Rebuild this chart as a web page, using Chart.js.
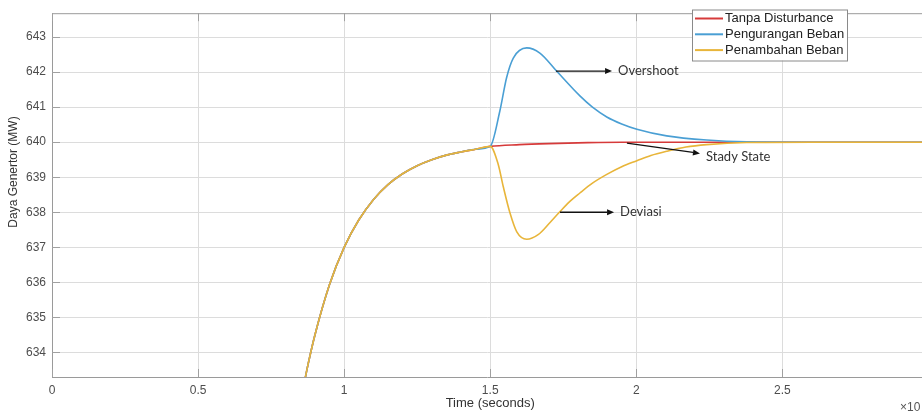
<!DOCTYPE html>
<html>
<head>
<meta charset="utf-8">
<script src="https://cdn.jsdelivr.net/npm/chart.js@4"></script>
<style>
  html, body { margin: 0; padding: 0; background: #fff; }
  canvas { display: block; }
</style>
</head>
<body>
<canvas id="chart" width="922" height="414"></canvas>
<script>
// Response shared by all three cases before the disturbance at t = 1.5
const riseTime  = [0.86, 0.877, 0.9, 0.95, 1.0, 1.05, 1.1, 1.15, 1.2, 1.25, 1.3, 1.35, 1.4, 1.45, 1.5];
const riseValue = [632.99, 633.68, 634.5, 635.94, 637.0, 637.78, 638.36, 638.79, 639.1, 639.33, 639.5, 639.63, 639.72, 639.8, 639.88];

// Tanpa Disturbance (after 1.5)
const redTime  = [1.6, 1.7, 1.8, 1.95, 2.2, 2.6, 2.98];
const redValue = [639.93, 639.96, 639.98, 640.0, 640.0, 640.0, 640.0];

// Pengurangan Beban (after 1.5)
const blueTime  = [1.533, 1.556, 1.579, 1.625, 1.67, 1.727, 1.807, 1.85, 1.899, 1.95, 2.002, 2.104, 2.241, 2.378, 2.6, 2.98];
const blueValue = [640.89, 641.84, 642.4, 642.69, 642.54, 642.03, 641.32, 641.0, 640.72, 640.52, 640.37, 640.18, 640.06, 640.01, 640.0, 640.0];

// Penambahan Beban (after 1.5)
const yellowTime  = [1.527, 1.545, 1.568, 1.591, 1.625, 1.664, 1.704, 1.739, 1.77, 1.807, 1.85, 1.899, 1.95, 2.002, 2.05, 2.104, 2.17, 2.241, 2.378, 2.6, 2.98];
const yellowValue = [639.38, 638.72, 637.97, 637.44, 637.23, 637.36, 637.7, 638.02, 638.29, 638.55, 638.83, 639.08, 639.3, 639.47, 639.62, 639.74, 639.86, 639.93, 639.99, 640.0, 640.0];

const seriesLabels = ['Tanpa Disturbance', 'Pengurangan Beban', 'Penambahan Beban'];
const seriesColors = ['#d63a3a', '#4a9fd4', '#e8b53a'];

// Annotations: [label, arrow start x, y, arrow end x, y]
const notes = [
  ['Overshoot',   1.725, 642.03, 1.917, 642.03],
  ['Stady State', 1.968, 639.97, 2.218, 639.68],
  ['Deviasi',     1.739, 638.0,  1.924, 638.0],
];

function points(times, values) {
  return times.map((t, i) => ({ x: t, y: values[i] }));
}

const withRise = (t, v) => points(riseTime, riseValue).concat(points(t, v));

// ─── Decorations: box, inner ticks, legend, notes, axis titles ───────────────

function arrow(ctx, x1, y1, x2, y2) {
  const a = Math.atan2(y2 - y1, x2 - x1);
  const L = 7, W = 3;
  ctx.beginPath();
  ctx.moveTo(x1, y1);
  ctx.lineTo(x2 - L * Math.cos(a), y2 - L * Math.sin(a));
  ctx.stroke();
  ctx.beginPath();
  ctx.moveTo(x2, y2);
  ctx.lineTo(x2 - L * Math.cos(a) - W * Math.sin(a), y2 - L * Math.sin(a) + W * Math.cos(a));
  ctx.lineTo(x2 - L * Math.cos(a) + W * Math.sin(a), y2 - L * Math.sin(a) - W * Math.cos(a));
  ctx.closePath();
  ctx.fill();
}

const decor = {
  id: 'decor',
  afterDraw(chart) {
    const { ctx, chartArea: ca, scales: { x, y } } = chart;
    ctx.save();

    // top border
    ctx.strokeStyle = '#9a9a9a';
    ctx.lineWidth = 1;
    ctx.beginPath();
    ctx.moveTo(ca.left, ca.top + 0.5);
    ctx.lineTo(ca.right, ca.top + 0.5);
    ctx.stroke();

    // inward tick marks
    ctx.strokeStyle = '#a0a0a0';
    ctx.beginPath();
    y.ticks.forEach(t => {
      const py = Math.round(y.getPixelForValue(t.value)) + 0.5;
      ctx.moveTo(ca.left, py);
      ctx.lineTo(ca.left + 8, py);
    });
    x.ticks.forEach(t => {
      const px = Math.round(x.getPixelForValue(t.value)) + 0.5;
      ctx.moveTo(px, ca.bottom);
      ctx.lineTo(px, ca.bottom - 8);
      ctx.moveTo(px, ca.top);
      ctx.lineTo(px, ca.top + 8);
    });
    ctx.stroke();

    // annotations
    ctx.strokeStyle = '#111';
    ctx.fillStyle = '#111';
    ctx.lineWidth = 1.3;
    ctx.font = '13px Lato, "Open Sans", sans-serif';
    ctx.textBaseline = 'middle';
    ctx.textAlign = 'left';
    notes.forEach(([text, x1, y1, x2, y2]) => {
      const ax = x.getPixelForValue(x1), ay = y.getPixelForValue(y1);
      const bx = x.getPixelForValue(x2), by = y.getPixelForValue(y2);
      arrow(ctx, ax, ay, bx, by);
      ctx.fillStyle = '#333';
      ctx.fillText(text, bx + 6, by + (by > ay ? 3 : 0));
      ctx.fillStyle = '#111';
    });

    // legend box
    const lx = 692, ly = 9.5, lw = 155, lh = 51;
    ctx.fillStyle = '#fff';
    ctx.fillRect(lx, ly, lw, lh);
    ctx.strokeStyle = '#8a8a8a';
    ctx.lineWidth = 1;
    ctx.strokeRect(lx + 0.5, ly + 0.5, lw, lh);
    ctx.font = '13px "Liberation Sans", Arial, sans-serif';
    seriesLabels.forEach((label, i) => {
      const ry = 18.5 + i * 15.8;
      ctx.strokeStyle = seriesColors[i];
      ctx.lineWidth = 2;
      ctx.beginPath();
      ctx.moveTo(lx + 3, ry);
      ctx.lineTo(lx + 31, ry);
      ctx.stroke();
      ctx.fillStyle = '#222';
      ctx.fillText(label, lx + 33, ry);
    });

    // axis titles
    ctx.fillStyle = '#333';
    ctx.font = '13px "Liberation Sans", Arial, sans-serif';
    ctx.textAlign = 'center';
    ctx.fillText('Time (seconds)', x.getPixelForValue(1.5), 403);
    ctx.font = '12px "Liberation Sans", Arial, sans-serif';
    ctx.save();
    ctx.translate(14, 172);
    ctx.rotate(-Math.PI / 2);
    ctx.fillText('Daya Genertor (MW)', 0, 0);
    ctx.restore();
    ctx.font = '12px "Liberation Sans", Arial, sans-serif';
    ctx.textAlign = 'left';
    ctx.fillStyle = '#555';
    ctx.fillText('\u00d710', 900, 408);

    ctx.restore();
  },
};

// ─── Chart ───────────────────────────────────────────────────────────────────

const tickFont = { family: '"Liberation Sans", Arial, sans-serif', size: 12 };

new Chart(document.getElementById('chart'), {
  type: 'line',
  data: {
    datasets: [
      { label: seriesLabels[0], data: withRise(redTime, redValue),       borderColor: seriesColors[0], order: 3 },
      { label: seriesLabels[1], data: withRise(blueTime, blueValue),     borderColor: seriesColors[1], order: 2 },
      { label: seriesLabels[2], data: withRise(yellowTime, yellowValue), borderColor: seriesColors[2], order: 1 },
    ],
  },
  options: {
    responsive: false,
    animation: false,
    layout: { padding: { top: 11, left: 0, right: 0, bottom: 0 } },
    elements: {
      line: { borderWidth: 1.6, cubicInterpolationMode: 'monotone' },
      point: { radius: 0 },
    },
    plugins: { legend: { display: false }, tooltip: { enabled: false } },
    scales: {
      x: {
        type: 'linear',
        min: 0,
        max: 2.978,
        afterFit: s => { s.height = 37; },
        ticks: {
          stepSize: 0.5, includeBounds: false, padding: 6, color: '#4d4d4d', font: tickFont, maxRotation: 0,
          callback: v => String(v),
        },
        grid: { color: '#dcdcdc', drawTicks: false },
        border: { color: '#9a9a9a' },
      },
      y: {
        min: 633.3,
        max: 643.68,
        afterFit: s => { s.width = 52; },
        ticks: { stepSize: 1, includeBounds: false, padding: 6, color: '#4d4d4d', font: tickFont, callback: v => String(v) },
        grid: { color: '#dcdcdc', drawTicks: false },
        border: { color: '#9a9a9a' },
      },
    },
  },
  plugins: [decor],
});
</script>
</body>
</html>
